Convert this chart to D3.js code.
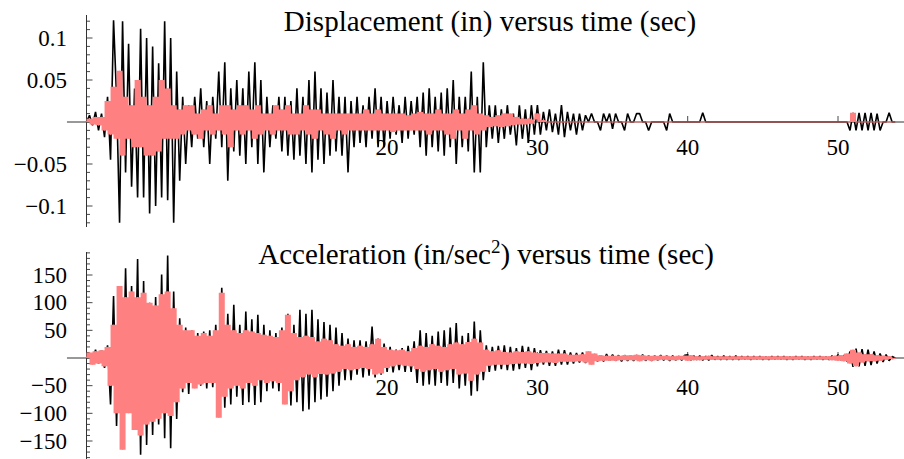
<!DOCTYPE html>
<html>
<head>
<meta charset="utf-8">
<script src="https://cdn.jsdelivr.net/npm/d3@7"></script>
<style>
  html, body { margin: 0; padding: 0; background: #fff; }
  svg { display: block; }
  text { font-family: "Liberation Serif", "Times New Roman", serif; fill: #000; }
</style>
</head>
<body>
<svg id="chart" width="904" height="459"></svg>
<script>
// ---- data (sampled every dt seconds, starting at t = 0) ----
const dt = 0.2;
const displacementTitle = "Displacement (in) versus time (sec)";
const accelerationTitle = ["Acceleration (in/sec", "2", ") versus time (sec)"];
const xTickValues = [10, 20, 30, 40, 50];
const xTickLabels = ["", "20", "30", "40", "50"];
const dispTickValues = [-0.1, -0.05, 0.05, 0.1];
const dispTickLabels = ["\u22120.1", "\u22120.05", "0.05", "0.1"];
const accTickValues = [-150, -100, -50, 50, 100, 150];
const accTickLabels = ["\u2212150", "\u2212100", "\u221250", "50", "100", "150"];

// displacement, black series (in)
const dispBlack = [
  0, 0.008, -0.004, 0.012, -0.01, 0.01, -0.018, 0.03, -0.045, 0.121,
  0.03, -0.12, 0.12, -0.06, 0.093, -0.077, 0.04, -0.09, 0.111, -0.09,
  0.1, -0.109, 0.09, -0.1, 0.07, -0.09, 0.12, -0.093, 0.1, -0.12,
  0.06, -0.07, 0.03, -0.05, 0.02, -0.03, 0.03, -0.02, 0.04, -0.03,
  0.025, -0.05, 0.03, -0.02, 0.06, -0.03, 0.071, -0.07, 0.04, -0.035,
  0.05, -0.04, 0.04, -0.05, 0.06, -0.03, 0.071, -0.05, 0.05, -0.06,
  0.03, -0.03, 0.02, -0.02, 0.03, -0.035, 0.03, -0.04, 0.025, -0.045,
  0.04, -0.04, 0.03, -0.05, 0.05, -0.06, 0.06, -0.045, 0.04, -0.05,
  0.035, -0.04, 0.05, -0.035, 0.03, -0.04, 0.03, -0.06, 0.025, -0.03,
  0.03, -0.025, 0.02, -0.03, 0.03, -0.02, 0.04, -0.03, 0.03, -0.03,
  0.025, -0.02, 0.03, -0.015, 0.02, -0.025, 0.03, -0.02, 0.025, -0.015,
  0.03, -0.03, 0.035, -0.04, 0.04, -0.03, 0.03, -0.035, 0.035, -0.04,
  0.04, -0.03, 0.05, -0.05, 0.03, -0.03, 0.03, -0.035, 0.06, -0.06,
  0.03, -0.06, 0.071, -0.03, 0.02, -0.02, 0.02, -0.025, 0.015, -0.02,
  0.02, -0.015, 0.01, -0.028, 0.02, -0.02, 0.015, -0.025, 0.02, -0.015,
  0.02, -0.015, 0.012, -0.01, 0.015, -0.012, 0.01, -0.015, 0.02, -0.018,
  0.012, -0.01, 0.01, -0.015, 0.01, -0.01, 0.008, 0, 0.01, 0,
  0, -0.01, 0.01, 0, 0.01, -0.008, 0.01, 0, 0, -0.01,
  0.01, 0, 0, 0.01, 0.01, 0, 0, -0.01, 0, 0,
  0, 0, 0, -0.01, 0.01, 0, 0, 0, 0, 0,
  0, 0, 0, 0, 0, 0.011, 0, 0, 0, 0,
  0, 0, 0, 0, 0, 0, 0, 0, 0, 0,
  0, 0, 0, 0, 0, 0, 0, 0, 0, 0,
  0, 0, 0, 0, 0, 0, 0, 0, 0, 0,
  0, 0, 0, 0, 0, 0, 0, 0, 0, 0,
  0, 0, 0, 0, -0.01, 0.011, -0.01, 0.011, -0.01, 0.011,
  -0.01, 0.011, -0.01, 0.01, -0.01, 0, 0, 0.011, 0, 0
];

// displacement, pink series (in)
const dispPink = [
  0, 0.004, -0.003, 0.006, -0.004, 0.006, -0.01, 0.025, -0.015, 0.042,
  -0.02, 0.061, -0.04, 0.03, -0.02, 0.02, -0.03, 0.05, -0.03, 0.03,
  -0.04, 0.02, -0.04, 0.03, -0.035, 0.05, -0.02, 0.04, -0.02, 0.02,
  -0.02, 0.015, -0.015, 0.02, -0.01, 0.02, -0.015, 0.01, -0.02, 0.015,
  -0.01, 0.02, -0.015, 0.01, -0.01, 0.02, -0.015, 0.02, -0.03, 0.015,
  -0.01, 0.02, -0.015, 0.02, -0.01, 0.015, -0.02, 0.02, -0.015, 0.01,
  -0.01, 0.01, -0.015, 0.02, -0.01, 0.015, -0.01, 0.02, -0.015, 0.01,
  -0.015, 0.01, -0.01, 0.02, -0.015, 0.015, -0.02, 0.015, -0.01, 0.01,
  -0.015, 0.01, -0.02, 0.01, -0.01, 0.01, -0.015, 0.01, -0.01, 0.01,
  -0.01, 0.01, -0.01, 0.015, -0.01, 0.01, -0.01, 0.015, -0.01, 0.01,
  -0.01, 0.01, -0.012, 0.01, -0.01, 0.01, -0.01, 0.008, -0.01, 0.01,
  -0.01, 0.012, -0.01, 0.01, -0.015, 0.01, -0.01, 0.015, -0.01, 0.01,
  -0.015, 0.01, -0.02, 0.015, -0.01, 0.01, -0.02, 0.015, -0.01, 0.02,
  -0.015, 0.01, -0.01, 0.008, -0.006, 0.006, -0.005, 0.008, -0.006, 0.01,
  -0.005, 0.01, -0.004, 0.006, -0.003, 0.004, -0.003, 0.004, -0.002, 0.003,
  0.01, 0, 0.002, 0, 0, 0, 0, 0, 0, 0,
  0, 0, 0, 0, 0, 0, 0, 0, 0, 0,
  0, 0, 0, 0, 0, 0, 0, 0, 0, 0,
  0, 0, 0, 0, 0, 0, 0, 0, 0, 0,
  0, 0, 0, 0, 0, 0, 0, 0, 0, 0,
  0, 0, 0, 0, 0, 0, 0, 0, 0, 0,
  0, 0, 0, 0, 0, 0, 0, 0, 0, 0,
  0, 0, 0, 0, 0, 0, 0, 0, 0, 0,
  0, 0, 0, 0, 0, 0, 0, 0, 0, 0,
  0, 0, 0, 0, 0, 0, 0, 0, 0, 0,
  0, 0, 0, 0, 0, 0.011, 0, 0, 0, 0,
  0, 0, 0, 0, 0, 0, 0, 0, 0, 0
];

// acceleration, black series (in/sec^2)
const accBlack = [
  0, 6, -8, 15, -10, 14, -18, 23, -84, 112,
  -123, 100, -120, 162, -90, 130, -110, 179, -175, 139,
  -157, 100, -139, 110, -120, 151, -145, 185, -163, 120,
  -110, 72, -62, 55, -65, 50, -53, 45, -50, 48,
  -55, 50, -53, 60, -70, 127, -90, 80, -84, 96,
  -70, 60, -85, 84, -80, 70, -85, 78, -80, 60,
  -60, 50, -55, 45, -60, 55, -70, 80, -86, 60,
  -80, 87, -96, 80, -93, 87, -80, 70, -75, 65,
  -70, 60, -60, 55, -50, 45, -40, 35, -40, 32,
  -30, 32, -35, 30, -32, 57, -35, 35, -30, 26,
  -25, 20, -26, 15, -22, 18, -25, 22, -25, 30,
  -45, 50, -50, 45, -48, 40, -50, 48, -45, 50,
  -50, 55, -45, 63, -55, 40, -50, 45, -68, 66,
  -60, 50, -40, 23, -25, 20, -23, 22, -20, 23,
  -22, 20, -23, 18, -20, 22, -18, 20, -22, 18,
  -15, 14, -12, 13, -14, 12, -14, 15, -12, 14,
  -12, 10, -10, 9, -8, 10, -9, 8, -7, 6,
  -6, 5, -6, 7, -5, 6, -5, 5, -6, 5,
  -5, 4, -5, 5, -4, 6, -5, 4, -5, 4,
  -4, 5, -4, 4, -5, 4, -4, 3, -4, 5,
  6, -4, 4, -3, 4, -4, 3, -4, 5, -3,
  3, -3, 4, -3, 3, -3, 4, -3, 3, -2,
  3, -3, 3, -2, 3, -3, 2, -3, 3, -2,
  3, -2, 3, -3, 2, -3, 3, -2, 3, -3,
  2, -3, 3, -2, 3, -3, 2, -3, 4, -3,
  6, -4, 5, -6, 12, -16, 17, -15, 16, -14,
  15, -13, 12, -10, 8, -7, 6, -5, 3, 0
];

// acceleration, pink series (in/sec^2)
const accPink = [
  0, 10, -12, 12, -10, 14, -15, 20, -50, 60,
  -100, 130, -166, 110, -100, 120, -130, 110, -140, 118,
  -120, 100, -115, 95, -110, 115, -100, 120, -105, 90,
  -80, 60, -55, 50, -45, 50, -55, 40, -48, 45,
  -45, 40, -45, 50, -108, 118, -70, 60, -55, 50,
  -50, 45, -55, 50, -45, 48, -50, 45, -40, 42,
  -45, 40, -42, 38, -45, 50, -84, 78, -60, 45,
  -40, 38, -35, 40, -30, 38, -35, 30, -29, 35,
  -30, 32, -28, 25, -25, 22, -20, 25, -22, 20,
  -20, 22, -18, 20, -20, 25, -30, 35, -28, 20,
  -18, 15, -15, 14, -12, 15, -14, 12, -15, 18,
  -20, 22, -25, 20, -22, 25, -20, 22, -25, 20,
  -22, 25, -20, 28, -30, 25, -28, 29, -41, 35,
  -30, 28, -25, 15, -14, 12, -12, 14, -12, 11,
  -12, 10, -11, 12, -10, 11, -10, 12, -11, 10,
  -9, 9, -8, 9, -8, 8, -9, 8, -7, 8,
  -7, 6, -7, 6, -6, 7, -8, 12, -12, 8,
  -6, 5, -5, 4, -5, 4, -5, 4, -4, 5,
  -4, 5, -4, 6, -6, 5, -4, 4, -5, 4,
  -4, 4, -3, 4, -4, 3, -4, 4, -3, 4,
  -5, 5, -4, 3, -4, 3, -3, 4, -3, 3,
  -3, 3, -3, 3, -3, 3, -3, 3, -3, 3,
  -3, 3, -3, 3, -3, 3, -3, 3, -3, 3,
  -3, 3, -3, 3, -3, 3, -3, 3, -3, 3,
  -3, 3, -3, 3, -3, 3, -3, 3, -4, 4,
  -5, 5, -6, 8, -10, 15, -15, 10, -8, 7,
  -6, 7, -6, 5, -5, 4, -3, 3, -2, 0
];

// ---- drawing ----
const svg = d3.select("#chart");
const black = "#000000";
const pink = "#ff8080";
const axisColor = "#333333";

const x = d3.scaleLinear().domain([0, 50]).range([86.5, 838]);
const xAxisStart = x(-1.3), xAxisEnd = 904;

function panel(cfg) {
  const g = svg.append("g");
  const y = cfg.y;
  g.append("line")
    .attr("x1", xAxisStart).attr("x2", xAxisEnd)
    .attr("y1", y(0)).attr("y2", y(0))
    .attr("stroke", axisColor).attr("stroke-width", 1);
  g.append("line")
    .attr("x1", x(0)).attr("x2", x(0))
    .attr("y1", cfg.yTop).attr("y2", cfg.yBottom)
    .attr("stroke", axisColor).attr("stroke-width", 1);
  g.selectAll("line.ytick").data(cfg.minorTicks).enter().append("line")
    .attr("x1", x(0)).attr("x2", d => x(0) + (cfg.isMajor(d) ? 6 : 3.5))
    .attr("y1", d => y(d)).attr("y2", d => y(d))
    .attr("stroke", axisColor).attr("stroke-width", 0.9);
  g.selectAll("line.xtick").data(xTickValues).enter().append("line")
    .attr("x1", d => x(d)).attr("x2", d => x(d))
    .attr("y1", y(0)).attr("y2", y(0) - 6)
    .attr("stroke", axisColor).attr("stroke-width", 0.9);
  g.selectAll("text.ylab").data(cfg.tickValues).enter().append("text")
    .attr("x", 67).attr("y", d => y(d) + 7.5)
    .attr("text-anchor", "end").attr("font-size", 23)
    .text((d, i) => cfg.tickLabels[i]);
  g.selectAll("text.xlab").data(xTickValues).enter().append("text")
    .attr("x", d => x(d)).attr("y", cfg.xLabelY)
    .attr("text-anchor", "middle").attr("font-size", 23)
    .text((d, i) => xTickLabels[i]);

  // black series: plain polyline
  const line = d3.line().x((d, i) => x(i * dt)).y(d => y(d));
  g.append("path").datum(cfg.blackData).attr("d", line)
    .attr("fill", "none").attr("stroke", black).attr("stroke-width", 1.6)
    .attr("stroke-linejoin", "bevel");

  // pink series: vertical range swept by each segment, plus the polyline itself
  const n = cfg.pinkData.length;
  const band = cfg.pinkData.map((v, i) => {
    const w = cfg.pinkData[Math.min(i + 1, n - 1)];
    return { t: i * dt, lo: Math.min(v, w), hi: Math.max(v, w) };
  });
  const area = d3.area().curve(d3.curveStepAfter)
    .x(d => x(d.t)).y0(d => y(d.lo)).y1(d => y(d.hi));
  g.append("path").datum(band).attr("d", area)
    .attr("fill", pink).attr("stroke", "none");
  g.append("path").datum(cfg.pinkData).attr("d", line)
    .attr("fill", "none").attr("stroke", pink).attr("stroke-width", 1.2)
    .attr("stroke-linejoin", "bevel");
  return g;
}

const yDisp = d3.scaleLinear().domain([-0.1, 0.1]).range([206, 38]);
panel({
  y: yDisp, yTop: 15, yBottom: 227,
  minorTicks: d3.range(-12, 13).map(k => k / 100),
  isMajor: d => Math.abs(Math.round(d * 100)) % 5 === 0,
  tickValues: dispTickValues, tickLabels: dispTickLabels,
  xLabelY: 155, blackData: dispBlack, pinkData: dispPink
});

const yAcc = d3.scaleLinear().domain([-150, 150]).range([441, 275]);
panel({
  y: yAcc, yTop: 252, yBottom: 459,
  minorTicks: d3.range(-190, 200, 10),
  isMajor: d => Math.round(d) % 50 === 0,
  tickValues: accTickValues, tickLabels: accTickLabels,
  xLabelY: 395, blackData: accBlack, pinkData: accPink
});

svg.append("text").attr("x", 490).attr("y", 31)
  .attr("text-anchor", "middle").attr("font-size", 29)
  .text(displacementTitle);
const t2 = svg.append("text").attr("x", 486).attr("y", 264)
  .attr("text-anchor", "middle").attr("font-size", 29);
t2.append("tspan").text(accelerationTitle[0]);
t2.append("tspan").attr("dy", -11).attr("font-size", 19).text(accelerationTitle[1]);
t2.append("tspan").attr("dy", 11).text(accelerationTitle[2]);
</script>
</body>
</html>
